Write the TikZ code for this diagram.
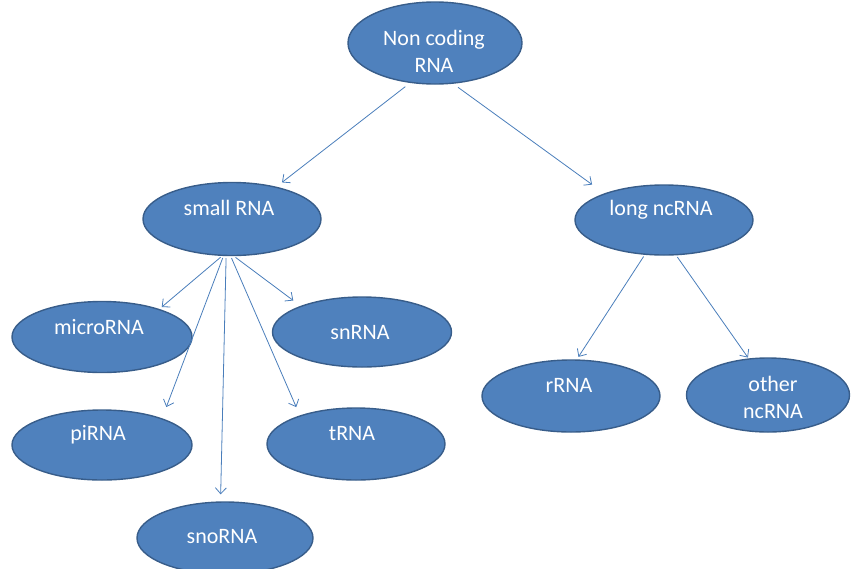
\documentclass[tikz,border=0pt]{standalone}
\usepackage{fontspec}
\setmainfont{Carlito}
\usetikzlibrary{shapes.geometric,arrows.meta}
\definecolor{fillc}{HTML}{4F81BD}
\definecolor{bordc}{HTML}{385D8A}
\definecolor{arrc}{HTML}{4A7EBB}
\begin{document}
\begin{tikzpicture}[x=1pt,y=-1pt,
  bub/.style={ellipse, draw=bordc, line width=1.4pt, fill=fillc, inner sep=0pt},
  lbl/.style={text=white, font=\fontsize{22}{26.5}\selectfont, align=center, anchor=base, inner sep=0pt},
  arr/.style={draw=arrc, line width=0.8pt, -{Straight Barb[length=6pt,width=11pt]}}]
\useasboundingbox (0,0) rectangle (853,568);
% ellipses
\node[bub, minimum width=174pt, minimum height=82pt] (nc) at (435,43) {};
\node[bub, minimum width=178pt, minimum height=73pt] (small) at (232,219) {};
\node[bub, minimum width=178pt, minimum height=70pt] (long) at (664,220) {};
\node[bub, minimum width=180pt, minimum height=71pt] (micro) at (102,337) {};
\node[bub, minimum width=180pt, minimum height=70pt] (pi) at (102,445) {};
\node[bub, minimum width=176pt, minimum height=72pt] (sno) at (225,538) {};
\node[bub, minimum width=179pt, minimum height=70pt] (sn) at (362,332) {};
\node[bub, minimum width=178pt, minimum height=72pt] (t) at (356,444) {};
\node[bub, minimum width=178pt, minimum height=72pt] (r) at (571,396) {};
\node[bub, minimum width=163pt, minimum height=74pt] (other) at (768,395) {};
% labels
\node[lbl] (lnc) at (434,72) {Non coding\\RNA};
\node[lbl] (lsmall) at (229,215) {small RNA};
\node[lbl] (llong) at (661,215) {long ncRNA};
\node[lbl] (lmicro) at (99,334) {microRNA};
\node[lbl] (lpi) at (98,440) {piRNA};
\node[lbl] (lsno) at (222,543) {snoRNA};
\node[lbl] (lsn) at (360,339) {snRNA};
\node[lbl] (lt) at (352,440) {tRNA};
\node[lbl] (lr) at (569,392) {rRNA};
\node[lbl] (lother) at (773,418) {other\\ncRNA};
% connectors
\draw[arr, shorten <=6pt, shorten >=7pt] (nc.238) -- (small.36);
\draw[arr, shorten <=6pt, shorten >=15pt] (nc.294) -- (long.156);
\draw[arr, shorten <=2pt, shorten >=3pt] (small.255) -- (micro.26);
\draw[arr, shorten <=2pt, shorten >=12pt] (small.257) -- (pi.24);
\draw[arr, shorten <=2pt, shorten >=7pt] (small.261) -- (sno.97);
\draw[arr, shorten <=2pt, shorten >=9pt] (small.268) -- (t.153);
\draw[arr, shorten <=2pt, shorten >=9pt] (small.273) -- (sn.157);
\draw[arr, shorten <=2pt, shorten >=3pt] (long.241) -- (r.81);
\draw[arr, shorten <=2pt, shorten >=1pt] (long.289) -- (other.118);
\end{tikzpicture}
\end{document}
